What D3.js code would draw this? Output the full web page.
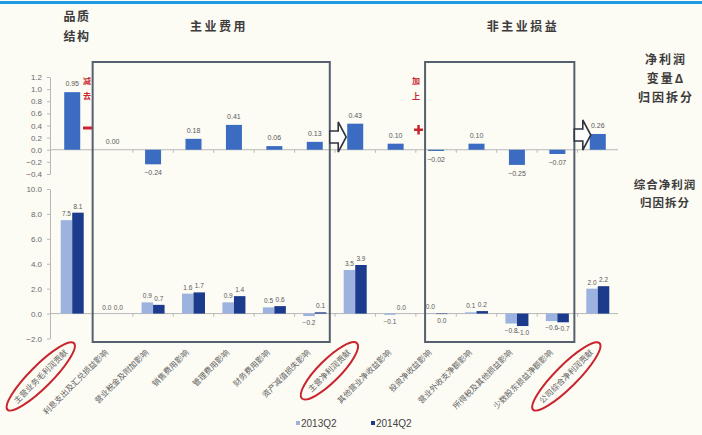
<!DOCTYPE html>
<html>
<head>
<meta charset="utf-8">
<script src="https://cdn.jsdelivr.net/npm/d3@7"></script>
<style>
  body { margin: 0; background: #fcfbf4; }
  svg { display: block; }
</style>
</head>
<body>
<svg id="chart" width="702" height="435"></svg>
<script>
// Categories of the profit-attribution breakdown
const categories = [
  "主营业务毛利润贡献", "利息支出及汇兑损益影响", "营业税金及附加影响", "销售费用影响",
  "管理费用影响", "财务费用影响", "资产减值损失影响", "主营净利润贡献",
  "其他营业净收益影响", "投资净收益影响", "营业外收支净额影响", "所得税及其他损益影响",
  "少数股东损益净额影响", "公司综合净利润贡献"
];
// Change in net profit attributed to each item (top panel)
const deltaValues = [0.95, 0.00, -0.24, 0.18, 0.41, 0.06, 0.13, 0.43, 0.10, -0.02, 0.10, -0.25, -0.07, 0.26];
// Composite net profit breakdown (bottom panel)
const seriesNames = ["2013Q2", "2014Q2"];
const values2013Q2 = [7.5, 0.0, 0.9, 1.6, 0.9, 0.5, -0.2, 3.5, -0.1, 0.03, 0.1, -0.8, -0.6, 2.0];
const values2014Q2 = [8.1, 0.0, 0.7, 1.7, 1.4, 0.6, 0.1, 3.9, 0.0, -0.04, 0.2, -1.0, -0.7, 2.2];
const topTicks = [-0.4, -0.2, 0.0, 0.2, 0.4, 0.6, 0.8, 1.0, 1.2];
const bottomTicks = [-2, 0, 2, 4, 6, 8, 10];
const highlighted = ["主营业务毛利润贡献", "主营净利润贡献", "公司综合净利润贡献"];

const svg = d3.select("#chart");
const W = 702, H = 435;
const colors = { delta: "#3b6cc2", s2013: "#9cb3e0", s2014: "#1c3b8c" };
const textGray = "#5a5a5a";
const cjk = "'Noto Sans CJK SC', 'Noto Sans', sans-serif";

svg.append("rect").attr("width", W).attr("height", H).attr("fill", "#fcfbf4");
svg.append("line").attr("x1", 0).attr("x2", W).attr("y1", 2.5).attr("y2", 2.5)
  .attr("stroke", "#1d9be2").attr("stroke-width", 3);

const x = d3.scaleBand().domain(categories).range([52, 618]);
const cx = c => x(c) + x.bandwidth() / 2;
const yTop = d3.scaleLinear().domain([-0.4, 1.2]).range([174, 77]);
const yBot = d3.scaleLinear().domain([-2, 10]).range([338.5, 189]);

// Axes
function styleAxis(g) {
  g.select(".domain").attr("stroke", "#b8b8b8");
  g.selectAll(".tick line").attr("stroke", "#b8b8b8");
  g.selectAll(".tick text").attr("fill", "#6a6a6a").style("font-size", "8px")
    .style("font-family", "'Liberation Sans', Arial, sans-serif");
}
svg.append("g").attr("transform", "translate(50,0)")
  .call(d3.axisLeft(yTop).tickValues(topTicks).tickFormat(d3.format(".1f")).tickSize(3).tickSizeOuter(0).tickPadding(5))
  .call(styleAxis);
svg.append("g").attr("transform", "translate(50,0)")
  .call(d3.axisLeft(yBot).tickValues(bottomTicks).tickFormat(d3.format(".1f")).tickSize(3).tickSizeOuter(0).tickPadding(5))
  .call(styleAxis);

// Zero baselines with small category ticks
[[yTop, 0], [yBot, 0]].forEach(([s]) => {
  svg.append("line").attr("x1", 50).attr("x2", 618).attr("y1", s(0)).attr("y2", s(0))
    .attr("stroke", "#b8b8b8").attr("stroke-width", 1);
  svg.append("g").selectAll("line").data(categories.slice(1)).join("line")
    .attr("x1", d => x(d)).attr("x2", d => x(d))
    .attr("y1", s(0)).attr("y2", s(0) + 3)
    .attr("stroke", "#b8b8b8");
});

// Top panel bars
const fmt2 = d3.format(".2f"), fmt1 = d3.format(".1f");
const topBarW = 16;
svg.append("g").selectAll("rect").data(categories).join("rect")
  .attr("x", d => cx(d) - topBarW / 2)
  .attr("width", topBarW)
  .attr("y", (d, i) => yTop(Math.max(0, deltaValues[i])))
  .attr("height", (d, i) => Math.abs(yTop(deltaValues[i]) - yTop(0)))
  .attr("fill", colors.delta);
svg.append("g").selectAll("text").data(categories).join("text")
  .attr("x", d => cx(d))
  .attr("y", (d, i) => deltaValues[i] >= 0 ? yTop(deltaValues[i]) - 6 : yTop(deltaValues[i]) + 11)
  .attr("text-anchor", "middle")
  .attr("fill", textGray).style("font-size", "7px")
  .style("font-family", "'Liberation Sans', Arial, sans-serif")
  .text((d, i) => fmt2(deltaValues[i]));

// Bottom panel grouped bars
const botBarW = 11.5;
const series = [
  { name: seriesNames[0], values: values2013Q2, color: colors.s2013, off: -botBarW },
  { name: seriesNames[1], values: values2014Q2, color: colors.s2014, off: 0 }
];
series.forEach(s => {
  svg.append("g").selectAll("rect").data(categories).join("rect")
    .attr("x", d => cx(d) + s.off)
    .attr("width", botBarW)
    .attr("y", (d, i) => yBot(Math.max(0, s.values[i])))
    .attr("height", (d, i) => Math.abs(yBot(s.values[i]) - yBot(0)))
    .attr("fill", s.color);
  svg.append("g").selectAll("text").data(categories).join("text")
    .attr("x", d => cx(d) + s.off + botBarW / 2)
    .attr("y", (d, i) => s.values[i] >= 0 ? yBot(s.values[i]) - 4 : yBot(s.values[i]) + 9)
    .attr("text-anchor", "middle")
    .attr("fill", textGray).style("font-size", "6.5px")
    .style("font-family", "'Liberation Sans', Arial, sans-serif")
    .text((d, i) => fmt1(s.values[i]));
});

// Framed groups: operating expenses and non-operating items
const boxStroke = "#56606e";
const boxes = [
  { x0: cx(categories[1]) - 20, x1: cx(categories[6]) + 15 },
  { x0: cx(categories[9]) - 11, x1: cx(categories[12]) + 17 }
];
boxes.forEach(b => {
  svg.append("rect").attr("x", b.x0).attr("y", 62).attr("width", b.x1 - b.x0).attr("height", 280)
    .attr("fill", "none").attr("stroke", boxStroke).attr("stroke-width", 2);
});

// Hollow arrows leading into the subtotal columns
function blockArrow(xStart, tipX, yc) {
  const headX = tipX - 8;
  const pts = [[xStart, yc - 6], [headX, yc - 6], [headX, yc - 15], [tipX, yc],
               [headX, yc + 15], [headX, yc + 6], [xStart, yc + 6]];
  svg.append("path").attr("d", d3.line()(pts) + "Z")
    .attr("fill", "#ffffff").attr("stroke", "#2f3440").attr("stroke-width", 1.6)
    .attr("stroke-linejoin", "miter");
}
blockArrow(boxes[0].x1, cx(categories[7]) - 9, 137);
blockArrow(boxes[1].x1, cx(categories[13]) - 7, 135);

// Red operators
const red = "#c8262e";
function opLabel(xp, chars) {
  svg.append("text").attr("x", xp).attr("y", 84).attr("text-anchor", "middle")
    .attr("fill", red).style("font-size", "8px").style("font-weight", "bold")
    .style("font-family", cjk)
    .selectAll("tspan").data(chars).join("tspan")
    .attr("x", xp).attr("dy", (d, i) => i ? 15 : 0).text(d => d);
}
opLabel(87, ["减", "去"]);
opLabel(416, ["加", "上"]);
svg.append("rect").attr("x", 83).attr("y", 126.5).attr("width", 9).attr("height", 3).attr("fill", red);
svg.append("rect").attr("x", 414).attr("y", 128.5).attr("width", 9).attr("height", 2.5).attr("fill", red);
svg.append("rect").attr("x", 417.3).attr("y", 125).attr("width", 2.5).attr("height", 9.5).attr("fill", red);

// Headings
const headStyle = sel => sel.attr("fill", "#3c3c3c").style("font-family", cjk)
  .style("font-weight", "bold");
function multiLine(xp, y0, lines, size, gap, spacing) {
  const t = svg.append("text").attr("x", xp).attr("y", y0).attr("text-anchor", "middle")
    .style("font-size", size + "px").style("letter-spacing", spacing + "px").call(headStyle);
  t.selectAll("tspan").data(lines).join("tspan")
    .attr("x", xp).attr("dy", (d, i) => i ? gap : 0).text(d => d);
}
multiLine(77, 21, ["品质", "结构"], 12, 20, 1.5);
multiLine(219, 31, ["主业费用"], 12, 0, 2.5);
multiLine(523, 31, ["非主业损益"], 12, 0, 2.5);
multiLine(666, 64, ["净利润", "变量Δ", "归因拆分"], 12, 19, 2);
multiLine(665, 189, ["综合净利润", "归因拆分"], 11.5, 18, 1);

// Category labels, rotated
const labelG = svg.append("g");
categories.forEach(c => {
  const ax = cx(c) - 6, ay = 351;
  const t = labelG.append("text")
    .attr("transform", `translate(${ax},${ay}) rotate(-45)`)
    .attr("text-anchor", "end").attr("dy", "0.35em")
    .attr("fill", "#5f5f5f").style("font-size", "8px").style("font-family", cjk)
    .text(c);
  if (highlighted.includes(c)) {
    const L = t.node().getComputedTextLength();
    const h = L / 2 * Math.SQRT1_2;
    labelG.append("ellipse")
      .attr("transform", `translate(${ax - h},${ay + h}) rotate(-45)`)
      .attr("rx", L / 2 + 11).attr("ry", 11)
      .attr("fill", "none").attr("stroke", red).attr("stroke-width", 2);
  }
});

// Legend
const legend = svg.append("g").attr("transform", "translate(296,423)");
series.forEach((s, i) => {
  const g = legend.append("g").attr("transform", `translate(${i * 75},0)`);
  g.append("rect").attr("x", 0).attr("y", -2).attr("width", 4).attr("height", 4).attr("fill", s.color);
  g.append("text").attr("x", 5).attr("y", 0).attr("dy", "0.35em")
    .attr("fill", "#444").style("font-size", "10px")
    .style("font-family", "'Liberation Sans', Arial, sans-serif").text(s.name);
});
</script>
</body>
</html>
